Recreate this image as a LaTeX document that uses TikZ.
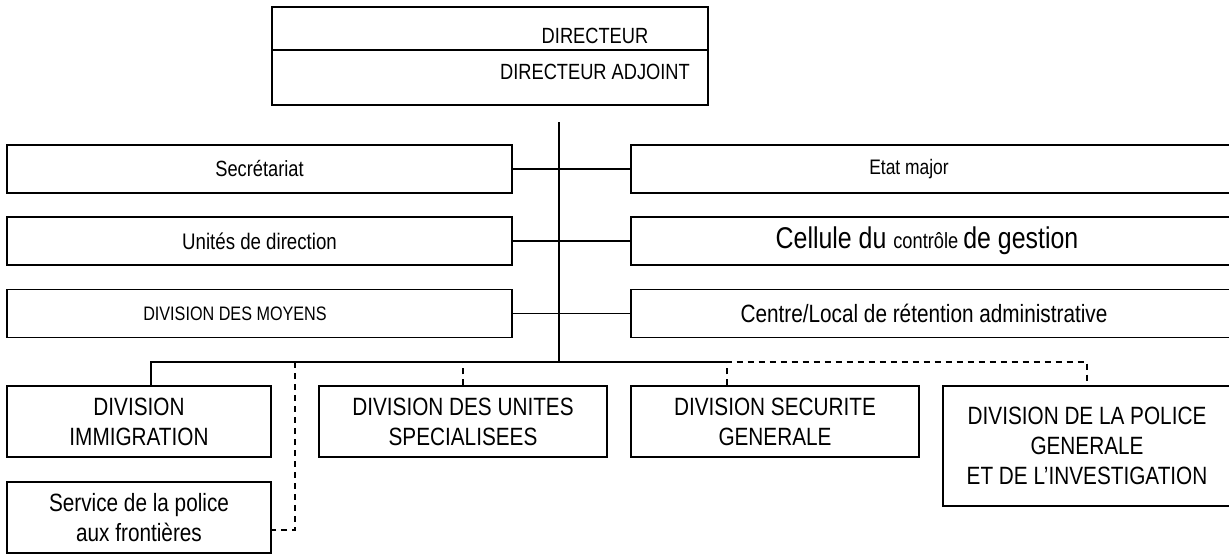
\documentclass[tikz,border=0pt]{standalone}
\usepackage{fontspec}
\setmainfont[FakeStretch=0.83]{Liberation Sans}
\begin{document}
\begin{tikzpicture}[x=1pt,y=-1pt,
  box/.style={draw,line width=1.3pt,inner sep=0pt,align=center},
  staffbox/.style={box,minimum height=48pt},
  link/.style={line width=1.3pt},
  dlink/.style={line width=1.3pt,dash pattern=on 6pt off 5pt},
  fs/.style={font=\fontsize{#1}{#1}\selectfont},
  bigtxt/.style={font=\fontsize{25}{30}\selectfont}]
\useasboundingbox (0,0) rectangle (1229,555);
\clip (0,0) rectangle (1229,555);

% director block
\node[box,minimum width=436pt,minimum height=43pt] (dir) at (490,28.5) {};
\node[box,minimum width=436pt,minimum height=55pt] (adj) at (490,77.5) {};
\node[fs=22,anchor=base] (dirt) at (595,43) {DIRECTEUR};
\node[fs=22,anchor=base] (adjt) at (595,79) {DIRECTEUR ADJOINT};

% staff boxes, left column
\node[staffbox,fs=22,minimum width=505pt] (sec) at (259.5,169) {Secrétariat};
\node[staffbox,fs=22.5,minimum width=505pt] (unit) at (259.5,241) {Unités de direction};
\node[staffbox,minimum width=505pt] (moy) at (259.5,313.5) {};
\node[fs=19.5] (moyt) at (235,313.5) {DIVISION DES MOYENS};

% staff boxes, right column
\node[staffbox,minimum width=604pt] (etat) at (933,169) {};
\node[fs=21] (etatt) at (909,169) {Etat major};
\node[staffbox,minimum width=604pt] (cell) at (933,241) {};
\node (cellt) at (927,241)
  {\fontsize{30}{30}\selectfont Cellule du \fontsize{22}{22}\selectfont contrôle \fontsize{30}{30}\selectfont de gestion};
\node[staffbox,minimum width=604pt] (crt) at (933,313.5) {};
\node[fs=25] (crtt) at (924,313.5) {Centre/Local de rétention administrative};

% divisions
\node[box,bigtxt,minimum width=264pt,minimum height=71pt] (imm) at (139,421.5) {DIVISION\\IMMIGRATION};
\node[box,bigtxt,minimum width=264pt,minimum height=71pt] (spf) at (139,517.5) {Service de la police\\aux frontières};
\node[box,bigtxt,minimum width=288pt,minimum height=71pt] (dus) at (463,421.5) {DIVISION DES UNITES\\SPECIALISEES};
\node[box,bigtxt,minimum width=288pt,minimum height=71pt] (dsg) at (775,421.5) {DIVISION SECURITE\\GENERALE};
\node[box,bigtxt,minimum width=288pt,minimum height=120pt] (dpg) at (1087,446) {DIVISION DE LA POLICE\\GENERALE\\ET DE L'INVESTIGATION};

% trunk and junctions
\coordinate (t0) at (559,122);
\coordinate (b0) at (559,362);
\coordinate (jimm) at (151,362);
\coordinate (jspf) at (295,362);
\coordinate (jsg) at (727,362);
\coordinate (jpg) at (1087,362);

\draw[link] (t0) -- (b0);
\draw[link] (sec.east) -- (etat.west);
\draw[link] (unit.east) -- (cell.west);
\draw[link] (moy.east) -- (crt.west);
\draw[link] (jimm |- imm.north) -- (jimm) -- (jsg);
\draw[dlink] (jspf) |- ([yshift=-12.5pt]spf.east);
\draw[dlink] (dus.north) -- (dus.north |- b0);
\draw[dlink] (jsg |- dsg.north) -- (jsg) -- (jpg) -- (dpg.north);
\end{tikzpicture}
\end{document}
